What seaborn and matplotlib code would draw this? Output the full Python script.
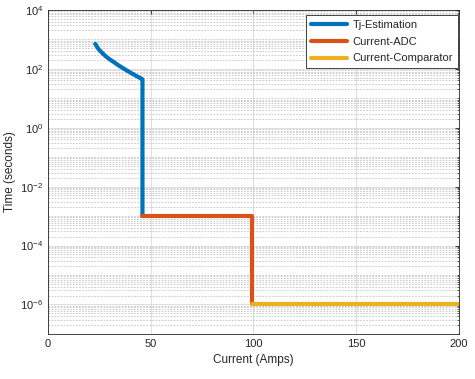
import numpy as np
import pandas as pd
import matplotlib
matplotlib.use("Agg")
import matplotlib.pyplot as plt
import matplotlib.ticker as mticker
import seaborn as sns

# Data
tj_current = [23, 24, 25, 26.5, 28, 30, 32, 34, 37, 40, 43, 45.5, 46, 46]
tj_time = [700, 540, 430, 340, 270, 210, 170, 135, 100, 75, 57, 46, 44, 1e-3]
adc_current = [46, 99.5, 99.5]
adc_time = [1e-3, 1e-3, 1e-6]
cmp_current = [99.5, 200]
cmp_time = [1e-6, 1e-6]
series_names = ["Tj-Estimation", "Current-ADC", "Current-Comparator"]
colors = ["#0072BD", "#D95319", "#EDB120"]
x_ticks = [0, 50, 100, 150, 200]
y_ticks = [1e-6, 1e-4, 1e-2, 1e0, 1e2, 1e4]

df = pd.concat([
    pd.DataFrame({"Current": tj_current, "Time": tj_time, "Series": series_names[0]}),
    pd.DataFrame({"Current": adc_current, "Time": adc_time, "Series": series_names[1]}),
    pd.DataFrame({"Current": cmp_current, "Time": cmp_time, "Series": series_names[2]}),
], ignore_index=True)

sns.set_theme(style="white")
plt.rcParams["font.family"] = ["Liberation Sans", "DejaVu Sans"]

fig = plt.figure(figsize=(4.75, 3.79), dpi=100)
ax = fig.add_axes([0.101, 0.119, 0.865, 0.855])

sns.lineplot(data=df, x="Current", y="Time", hue="Series",
             estimator=None, sort=False, palette=colors, hue_order=series_names,
             linewidth=3.0, ax=ax)

ax.set_yscale("log")
ax.set_xlim(0, 200)
ax.set_ylim(1e-7, 1e4)
ax.set_xticks(x_ticks)
ax.set_yticks(y_ticks)
ax.yaxis.set_major_formatter(mticker.LogFormatterSciNotation())
ax.yaxis.set_minor_locator(mticker.LogLocator(base=10, subs=np.arange(1, 10), numticks=50))
ax.yaxis.set_minor_formatter(mticker.NullFormatter())

ax.grid(True, which="major", color="#d9d9d9", linestyle="-", linewidth=0.6)
ax.grid(True, which="minor", axis="y", color="#bdbdbd", linestyle=(0, (2.2, 1.8)), linewidth=0.55)
ax.set_axisbelow(True)

ax.tick_params(which="both", direction="in", top=True, right=True, colors="#262626",
               labelsize=8, labelcolor="#262626")
ax.tick_params(which="major", length=3, width=0.6)
ax.tick_params(which="minor", length=1.8, width=0.5)
for s in ax.spines.values():
    s.set_color("#262626")
    s.set_linewidth(0.6)

ax.set_xlabel("Current (Amps)", fontsize=8.5, color="#262626")
ax.set_ylabel("Time (seconds)", fontsize=8.5, color="#262626", labelpad=3)

leg = ax.legend(loc="upper right", bbox_to_anchor=(0.998, 0.985), borderaxespad=0,
                fontsize=8, frameon=True, fancybox=False,
                edgecolor="#262626", framealpha=1, handlelength=3.2,
                labelspacing=0.62, handletextpad=0.5, borderpad=0.45)
leg.get_frame().set_linewidth(0.6)
for line in leg.get_lines():
    line.set_linewidth(3.0)

fig.savefig("out.png", dpi=100)
